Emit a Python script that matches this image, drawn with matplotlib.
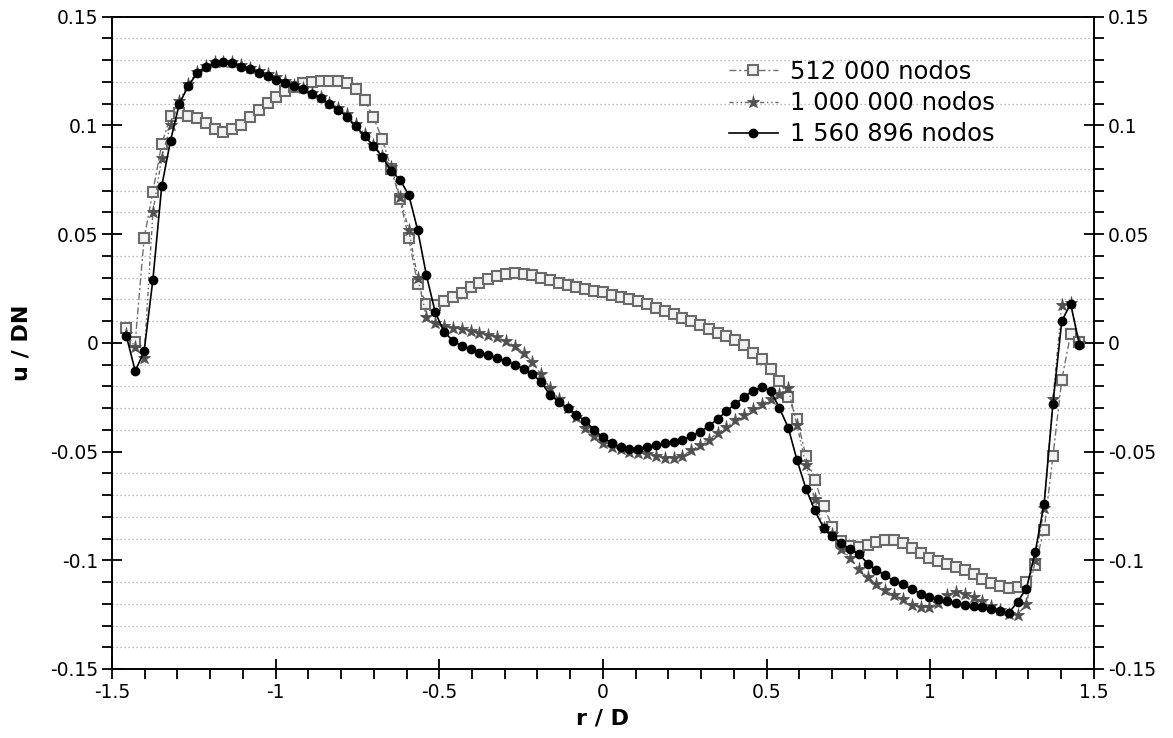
import numpy as np
import matplotlib

matplotlib.use("Agg")
import matplotlib.pyplot as plt
from matplotlib.ticker import MultipleLocator

plt.rcParams["font.family"] = "DejaVu Sans"
plt.rcParams["axes.unicode_minus"] = False

# common sampling line r/D (109 stations)
r_d = np.linspace(-1.456, 1.456, 109)

u_512k = [
    0.0068, 0.0005, 0.048, 0.0695, 0.0914, 0.1043, 0.1055, 0.1045, 0.1032, 0.1009,
    0.0984, 0.097, 0.0981, 0.1001, 0.1037, 0.107, 0.1101, 0.1132, 0.1158, 0.1178,
    0.1193, 0.120, 0.1203, 0.1205, 0.1203, 0.1193, 0.1166, 0.1116, 0.1037, 0.0935,
    0.080, 0.066, 0.048, 0.027, 0.018, 0.0175, 0.019, 0.021, 0.023, 0.0255,
    0.0275, 0.0295, 0.0308, 0.0315, 0.0319, 0.0318, 0.031, 0.030, 0.029, 0.0275,
    0.0265, 0.0255, 0.0247, 0.024, 0.0232, 0.0222, 0.0212, 0.0202, 0.019, 0.0177,
    0.0162, 0.0146, 0.0132, 0.0116, 0.0099, 0.008, 0.0063, 0.0047, 0.003, 0.0015,
    -0.001, -0.0045, -0.0075, -0.012, -0.0175, -0.025, -0.035, -0.052, -0.063, -0.075,
    -0.0846, -0.091, -0.0935, -0.094, -0.093, -0.0915, -0.0905, -0.0905, -0.092, -0.0942,
    -0.0968, -0.099, -0.1005, -0.1018, -0.103, -0.1047, -0.1065, -0.1085, -0.1105, -0.1118,
    -0.1128, -0.1125, -0.110, -0.102, -0.086, -0.052, -0.017, 0.004, 0.0005,
]

u_1000k = [
    0.004, -0.002, -0.007, 0.060, 0.085, 0.100, 0.111, 0.119, 0.1245, 0.1275,
    0.129, 0.1293, 0.129, 0.1278, 0.1265, 0.125, 0.1235, 0.122, 0.1203, 0.1185,
    0.117, 0.115, 0.113, 0.1105, 0.108, 0.105, 0.1005, 0.096, 0.091, 0.086,
    0.081, 0.067, 0.052, 0.030, 0.012, 0.009, 0.0075, 0.007, 0.0065, 0.0055,
    0.0045, 0.0038, 0.0025, 0.0008, -0.0015, -0.0045, -0.009, -0.0145, -0.021, -0.026,
    -0.030, -0.034, -0.039, -0.043, -0.046, -0.048, -0.049, -0.050, -0.0505, -0.051,
    -0.052, -0.053, -0.053, -0.052, -0.0495, -0.047, -0.0445, -0.0417, -0.0387, -0.0357,
    -0.033, -0.0305, -0.028, -0.026, -0.0235, -0.021, -0.038, -0.056, -0.072, -0.085,
    -0.088, -0.095, -0.0988, -0.104, -0.1078, -0.111, -0.1138, -0.116, -0.118, -0.1205,
    -0.1214, -0.1214, -0.1198, -0.116, -0.1145, -0.1153, -0.1168, -0.1187, -0.121, -0.123,
    -0.1245, -0.125, -0.120, -0.100, -0.076, -0.026, 0.0175, 0.0185, 0.000,
]

u_1560k = [
    0.003, -0.013, -0.004, 0.029, 0.072, 0.093, 0.110, 0.118, 0.124, 0.127,
    0.1285, 0.129, 0.1285, 0.127, 0.126, 0.124, 0.1225, 0.121, 0.1195, 0.118,
    0.1165, 0.1145, 0.1125, 0.110, 0.107, 0.104, 0.0995, 0.095, 0.0905, 0.0855,
    0.079, 0.075, 0.068, 0.052, 0.031, 0.014, 0.005, 0.001, -0.0015, -0.003,
    -0.0045, -0.0055, -0.007, -0.0085, -0.010, -0.012, -0.0145, -0.018, -0.024, -0.027,
    -0.030, -0.033, -0.036, -0.040, -0.0435, -0.046, -0.048, -0.0488, -0.0488, -0.0477,
    -0.0468, -0.0462, -0.0458, -0.0447, -0.043, -0.041, -0.0383, -0.035, -0.0315, -0.028,
    -0.025, -0.022, -0.0204, -0.022, -0.030, -0.039, -0.054, -0.067, -0.077, -0.085,
    -0.089, -0.092, -0.095, -0.097, -0.1015, -0.1045, -0.107, -0.1095, -0.111, -0.1133,
    -0.1153, -0.1168, -0.118, -0.1187, -0.1196, -0.1207, -0.1211, -0.1217, -0.1226, -0.1233,
    -0.1242, -0.119, -0.113, -0.096, -0.074, -0.028, 0.010, 0.018, -0.001,
]

labels = ["512 000 nodos", "1 000 000 nodos", "1 560 896 nodos"]
y_ticks = [-0.15, -0.1, -0.05, 0, 0.05, 0.1, 0.15]
y_tick_labels = ["-0.15", "-0.1", "-0.05", "0", "0.05", "0.1", "0.15"]
x_ticks = [-1.5, -1, -0.5, 0, 0.5, 1, 1.5]
x_tick_labels = ["-1.5", "-1", "-0.5", "0", "0.5", "1", "1.5"]

fig = plt.figure(figsize=(11.73, 7.38), dpi=100)
ax = fig.add_axes([0.0955, 0.0935, 0.837, 0.884])

ax.plot(r_d, u_512k, color="#707070", lw=1.0, linestyle=(0, (5, 2, 1.5, 2)),
        marker="s", ms=6.8, mfc="#f2f2f2", mec="#6a6a6a", mew=1.5, label=labels[0], zorder=3)
ax.plot(r_d, u_1000k, color="#666666", lw=1.0, linestyle=(0, (3, 2, 1, 2, 1, 2)),
        marker="*", ms=9.5, mfc="#505050", mec="#505050", mew=0.6, label=labels[1], zorder=4)
ax.plot(r_d, u_1560k, color="black", lw=1.2, linestyle="-",
        marker="o", ms=6, mfc="black", mec="black", label=labels[2], zorder=5)

ax.set_xlim(-1.5, 1.5)
ax.set_ylim(-0.15, 0.15)
ax.set_xticks(x_ticks, x_tick_labels)
ax.set_yticks(y_ticks, y_tick_labels)
ax.xaxis.set_minor_locator(MultipleLocator(0.1))
ax.yaxis.set_minor_locator(MultipleLocator(0.01))

ax.tick_params(axis="y", which="major", direction="inout", length=14, width=1.3,
               left=True, right=True, labelleft=True, labelright=True, labelsize=13.5, pad=3)
ax.tick_params(axis="y", which="minor", direction="out", length=7, width=1.3,
               left=True, right=True)
ax.tick_params(axis="x", which="major", direction="inout", length=14, width=1.3,
               top=False, labelsize=13.5, pad=3)
ax.tick_params(axis="x", which="minor", direction="out", length=7, width=1.3, top=False)

ax.yaxis.grid(True, which="minor", color="#a8a8a8", lw=0.9, linestyle=(0, (1, 2.2)))
ax.set_axisbelow(True)

for sp in ax.spines.values():
    sp.set_linewidth(1.4)

ax.set_xlabel("r / D", fontsize=16, fontweight="bold", labelpad=5)
ax.set_ylabel("u / DN", fontsize=16, fontweight="bold")
ax.yaxis.set_label_coords(-0.082, 0.5)

ax.legend(loc="upper left", bbox_to_anchor=(0.607, 0.942), bbox_transform=fig.transFigure,
          frameon=False, fontsize=17.5, handlelength=2.0, handletextpad=0.5,
          labelspacing=0.3, borderpad=0.2)

fig.savefig("out.png", dpi=100)
